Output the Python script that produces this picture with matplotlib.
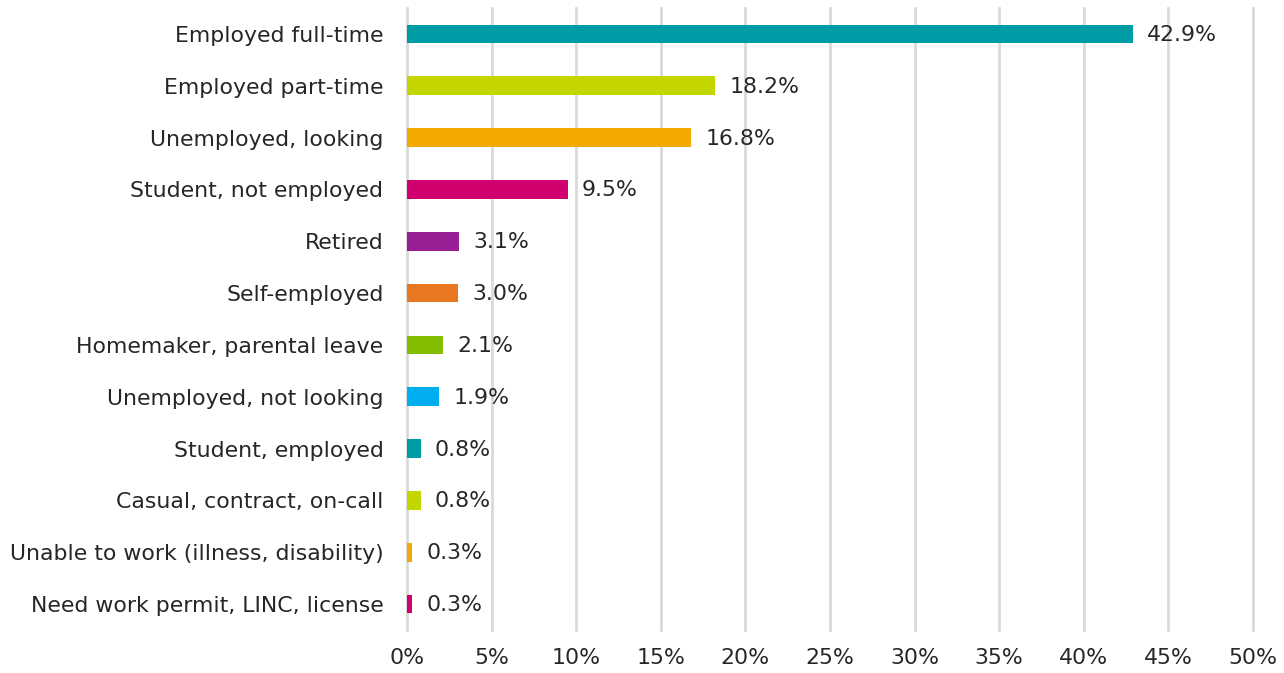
import matplotlib
matplotlib.use("Agg")
import matplotlib.pyplot as plt
from matplotlib.ticker import FuncFormatter, MultipleLocator

categories = [
    "Employed full-time", "Employed part-time", "Unemployed, looking",
    "Student, not employed", "Retired", "Self-employed",
    "Homemaker, parental leave", "Unemployed, not looking",
    "Student, employed", "Casual, contract, on-call",
    "Unable to work (illness, disability)", "Need work permit, LINC, license",
]
values = [42.9, 18.2, 16.8, 9.5, 3.1, 3.0, 2.1, 1.9, 0.8, 0.8, 0.3, 0.3]
colors = ["#009CA6", "#C4D600", "#F2A900", "#D0006F", "#991E96", "#E87722",
          "#84BD00", "#00AEEF", "#009CA6", "#C4D600", "#F2A900", "#D0006F"]

plt.rcParams['font.family'] = ['DejaVu Sans']
fig = plt.figure(figsize=(12.84, 6.73), dpi=100)
ax = fig.add_axes([407/1284, 1-630/673, (1253-407)/1284, (630-8)/673])

fs = 15.8
tc = "#262626"
y = list(range(len(categories)))
ax.barh(y, values, height=0.36, color=colors, zorder=3)
for yi, v in zip(y, values):
    ax.text(v + 0.85, yi + 0.02, f"{v:.1f}%", va="center", ha="left", fontsize=fs, color=tc)

ax.set_xlim(0, 50)
ax.set_ylim(len(categories) - 0.5, -0.5)
ax.set_yticks(y)
ax.set_yticklabels(categories, fontsize=fs, color=tc)
ax.xaxis.set_major_locator(MultipleLocator(5))
ax.xaxis.set_major_formatter(FuncFormatter(lambda x, p: f"{x:.0f}%"))
ax.tick_params(axis="x", labelsize=fs, colors=tc, length=0, pad=13)
ax.tick_params(axis="y", length=0, pad=17)
ax.grid(axis="x", color="#D9D9D9", linewidth=2, zorder=0)
for gl in ax.get_xgridlines():
    gl.set_clip_on(False)
for s in ax.spines.values():
    s.set_visible(False)

fig.savefig("out.png", dpi=100)
